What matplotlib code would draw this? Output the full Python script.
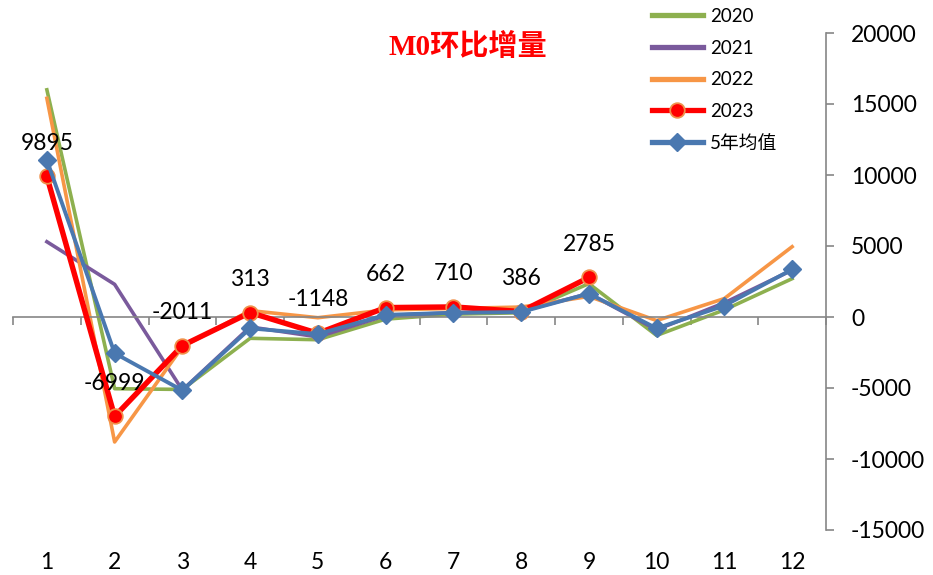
import matplotlib
matplotlib.use("Agg")
import matplotlib.pyplot as plt
from matplotlib.ticker import MultipleLocator, FixedLocator, NullFormatter

plt.rcParams['font.family'] = ['Lato', 'Noto Sans CJK SC', 'DejaVu Sans']
plt.rcParams['axes.unicode_minus'] = False

# 月份
months = [1, 2, 3, 4, 5, 6, 7, 8, 9, 10, 11, 12]
month_labels = [str(m) for m in months]

# M0 环比增量 (亿元)
y2020 = [16000, -5050, -5100, -1500, -1600, -150, 200, 300, 2350, -1300, 500, 2700]
y2021 = [5300, 2300, -5150, -700, -1400, 100, 300, 400, 1650, -900, 1000, 3300]
y2022 = [15400, -8800, -2100, 450, -50, 500, 600, 700, 1450, -250, 1300, 4950]
y2023 = [9895, -6999, -2011, 313, -1148, 662, 710, 386, 2785]
avg5 = [11050, -2550, -5170, -800, -1200, 150, 300, 350, 1650, -800, 800, 3350]

fig = plt.figure(figsize=(9.33, 5.75), dpi=100)
ax = fig.add_axes([13/933, 1 - 530/575, (826 - 13)/933, (530 - 33)/575])

ax.plot(months, y2020, color='#8DB04F', lw=2.6, label='2020', zorder=2)
ax.plot(months, y2021, color='#7A5A9C', lw=2.6, label='2021', zorder=2)
ax.plot(months, y2022, color='#F79646', lw=2.6, label='2022', zorder=2)
ax.plot(months[:len(y2023)], y2023, color='#FF0000', lw=3.9, marker='o', ms=10.5,
        mfc='#FF0000', mec='#F0904A', mew=1.3, label='2023', zorder=3)
ax.plot(months, avg5, color='#4A78B0', lw=2.8, marker='D', ms=9.5,
        mfc='#4A78B0', mec='#4A78B0', label='5年均值', zorder=4)

# 2023 数据标签
for m, v in zip(months, y2023):
    ax.annotate(str(v), (m, v), xytext=(0, 24), textcoords='offset points',
                ha='center', va='center', fontsize=16.5, color='black', zorder=5)

ax.set_xlim(0.5, 12.5)
ax.set_ylim(-15000, 20000)

# 右侧纵轴
ax.yaxis.tick_right()
ax.yaxis.set_major_locator(MultipleLocator(5000))
ax.tick_params(axis='y', direction='out', length=6, width=1.2, color='#868686',
               labelsize=16.5, pad=12)
for s in ['top', 'left']:
    ax.spines[s].set_visible(False)
ax.spines['right'].set_color('#868686')
ax.spines['right'].set_linewidth(1.2)

# 横轴在 0 处
ax.spines['bottom'].set_position(('data', 0))
ax.spines['bottom'].set_color('#868686')
ax.spines['bottom'].set_linewidth(1.2)
ax.xaxis.set_major_locator(FixedLocator(months))
ax.xaxis.set_major_formatter(NullFormatter())
ax.xaxis.set_minor_locator(FixedLocator([m - 0.5 for m in months] + [12.5]))
ax.tick_params(axis='x', which='major', length=0)
ax.tick_params(axis='x', which='minor', direction='out', length=6, width=1.2, color='#868686')

for m, lab in zip(months, month_labels):
    ax.text(m, -0.066, lab, transform=ax.get_xaxis_transform(), ha='center', va='center',
            fontsize=16.5, color='black')

fig.text(468/933, 1 - 47/575, 'M0环比增量', ha='center', va='center', color='#FF0000',
         fontsize=21, fontweight='bold', family=['Liberation Serif', 'Noto Sans CJK SC'])

leg = fig.legend(loc='upper left', bbox_to_anchor=(652/933, 1 - 8/575), frameon=False,
                 fontsize=13.5, handlelength=2.7, handletextpad=0.4, labelspacing=0.78,
                 borderpad=0, borderaxespad=0)
for h in leg.legend_handles:
    h.set_linewidth(3.8)

fig.savefig('out.png', dpi=100)
